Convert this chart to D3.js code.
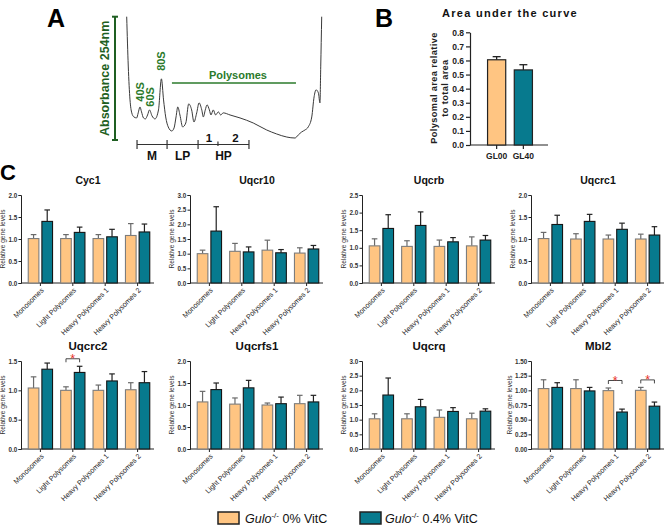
<!DOCTYPE html>
<html><head><meta charset="utf-8">
<script src="https://cdn.jsdelivr.net/npm/d3@7"></script>
<style>
body{margin:0;background:#fff}
svg{display:block;font-family:"Liberation Sans",Arial,sans-serif}
</style>
</head><body>
<svg id="c" width="669" height="525"></svg>
<script>
// ---------- Panel A: polysome profile ----------
const traceFraction = [0,0.8,1.7,2.6,3.7,5.1,5.9,6.8,7.6,8.6,9.6,10.7,11.7,13.0,14.5,16.3,17.8,18.9,20.0,21.3,23.1,24.3,25.3,26.2,27.3,28.7,30.3,31.8,33.3,34.5,35.9,37.1,38.5,39.3,40.3,41.2,42.4,43.2,44.4,45.6,47.0,48.2,49.5,53.0,58.1,64.9,71.8,76.9,82.1,86.3,88.0,89.7,91.4,93.1,94.9,96.1,97.1,98.3,99.1,99.5,100];
const traceAbsorbance = [1.0,0.60,0.325,0.22,0.187,0.179,0.22,0.268,0.228,0.179,0.171,0.203,0.244,0.195,0.171,0.244,0.496,0.325,0.187,0.106,0.073,0.098,0.187,0.268,0.203,0.106,0.138,0.293,0.244,0.146,0.22,0.301,0.244,0.187,0.244,0.285,0.244,0.203,0.244,0.203,0.228,0.203,0.22,0.203,0.179,0.138,0.081,0.049,0.024,0.016,0.041,0.065,0.081,0.106,0.187,0.35,0.407,0.382,0.301,0.593,1.0];
const peakLabels = ["40S","60S","80S"];
const peakFraction = [6.9, 12.1, 17.8];
const peakLabelLevel = [0.39, 0.35, 0.64];
const polysomeRange = [23.2, 86.8];
const fractionBounds = [5.3, 20.7, 36.6, 62.7];
const fractionLabels = ["M","LP","HP"];
const hpSplit = 46.8;
const hpLabels = ["1","2"];

// ---------- Panel B ----------
const areaGroups = ["GL00","GL40"];
const areaMean = [0.605, 0.533];
const areaErr = [0.022, 0.037];

// ---------- Panel C ----------
const groups = ["Monosomes","Light Polysomes","Heavy Polysomes 1","Heavy Polysomes 2"];
const genes = ["Cyc1","Uqcr10","Uqcrb","Uqcrc1","Uqcrc2","Uqcrfs1","Uqcrq","Mbl2"];
const yMax = [2.0, 3.0, 2.5, 2.0, 1.5, 2.0, 3.0, 1.5];
const yStep = [0.5, 0.5, 0.5, 0.5, 0.5, 0.5, 0.5, 0.25];
const mean0 = [
  [1.01,1.01,1.01,1.08],
  [1.00,1.08,1.12,1.02],
  [1.055,1.04,1.04,1.055],
  [1.01,1.00,1.00,1.00],
  [1.04,1.00,1.00,1.01],
  [1.07,1.02,1.00,1.03],
  [1.03,1.03,1.08,1.03],
  [1.03,1.03,0.995,1.00]
];
const err0 = [
  [0.09,0.09,0.09,0.27],
  [0.12,0.27,0.34,0.18],
  [0.20,0.16,0.18,0.255],
  [0.14,0.12,0.09,0.11],
  [0.19,0.06,0.09,0.12],
  [0.24,0.14,0.045,0.19],
  [0.17,0.17,0.25,0.19],
  [0.15,0.15,0.045,0.05]
];
const mean04 = [
  [1.40,1.15,1.05,1.16],
  [1.77,1.06,1.03,1.16],
  [1.55,1.635,1.17,1.22],
  [1.33,1.40,1.22,1.09],
  [1.36,1.305,1.16,1.13],
  [1.35,1.39,1.03,1.07],
  [1.84,1.44,1.28,1.29],
  [1.05,0.99,0.63,0.73]
];
const err04 = [
  [0.26,0.12,0.17,0.18],
  [0.83,0.17,0.11,0.12],
  [0.39,0.385,0.12,0.13],
  [0.21,0.16,0.14,0.19],
  [0.105,0.105,0.12,0.19],
  [0.15,0.17,0.15,0.15],
  [0.58,0.25,0.13,0.08],
  [0.08,0.06,0.05,0.07]
];
const significant = [[],[],[],[],[1],[],[],[2,3]];
const legendLabels = ["0% VitC","0.4% VitC"];

// ---------- styles ----------
const ORANGE = "#FFC582", TEAL = "#077A8E";
const GREEN = "#2B7A2B", DGREEN = "#1F5F22";
const FONT = "Liberation Sans, Arial, sans-serif";
const svg = d3.select("#c");
svg.append("rect").attr("width",669).attr("height",525).attr("fill","#fff");

// panel letters
[["A",47,27,25],["B",375,27,25],["C",0,180,22]].forEach(([t,x,y,s])=>{
  svg.append("text").attr("x",x).attr("y",y).attr("font-size",s).attr("font-weight","bold").attr("fill","#000").text(t);
});

// ===== Panel A =====
(function(){
  const xA = d3.scaleLinear().domain([0,100]).range([126.7,321.7]);
  const yA = d3.scaleLinear().domain([0,1]).range([140,16.7]);
  const gA = svg.append("g");
  const pts = traceFraction.map((f,i)=>[f, traceAbsorbance[i]]);
  gA.append("path").datum(pts)
    .attr("d", d3.line().x(d=>xA(d[0])).y(d=>yA(d[1])).curve(d3.curveMonotoneX))
    .attr("fill","none").attr("stroke","#3a3a3a").attr("stroke-width",1);
  const ax = 115;
  gA.append("line").attr("x1",ax).attr("x2",ax).attr("y1",yA(1)).attr("y2",yA(0)).attr("stroke",DGREEN).attr("stroke-width",2);
  [0,1].forEach(v=>gA.append("line").attr("x1",ax-3).attr("x2",ax+3).attr("y1",yA(v)).attr("y2",yA(v)).attr("stroke",DGREEN).attr("stroke-width",2));
  gA.append("text").attr("transform",`translate(${ax-6},${(yA(0)+yA(1))/2}) rotate(-90)`)
    .attr("text-anchor","middle").attr("font-size",12.5).attr("font-weight","bold").attr("fill",DGREEN).text("Absorbance 254nm");
  peakLabels.forEach((t,i)=>{
    gA.append("text").attr("transform",`translate(${xA(peakFraction[i])},${yA(peakLabelLevel[i])}) rotate(-90)`)
      .attr("text-anchor","middle").attr("dy","0.35em").attr("font-size",11).attr("font-weight","bold").attr("fill",GREEN).text(t);
  });
  gA.append("line").attr("x1",xA(polysomeRange[0])).attr("x2",xA(polysomeRange[1])).attr("y1",83).attr("y2",83).attr("stroke",GREEN).attr("stroke-width",1.6);
  gA.append("text").attr("x",(xA(polysomeRange[0])+xA(polysomeRange[1]))/2+4).attr("y",79).attr("text-anchor","middle")
    .attr("font-size",11).attr("font-weight","bold").attr("fill",GREEN).text("Polysomes");
  const by = 144.5;
  gA.append("line").attr("x1",xA(fractionBounds[0])).attr("x2",xA(fractionBounds[3])).attr("y1",by).attr("y2",by).attr("stroke","#333").attr("stroke-width",1.2);
  fractionBounds.forEach(b=>gA.append("line").attr("x1",xA(b)).attr("x2",xA(b)).attr("y1",by-4.5).attr("y2",by+4.5).attr("stroke","#333").attr("stroke-width",1.2));
  gA.append("line").attr("x1",xA(hpSplit)).attr("x2",xA(hpSplit)).attr("y1",by-3).attr("y2",by+1.5).attr("stroke","#333").attr("stroke-width",1.2);
  fractionLabels.forEach((t,i)=>{
    gA.append("text").attr("x",(xA(fractionBounds[i])+xA(fractionBounds[i+1]))/2).attr("y",159.5).attr("text-anchor","middle")
      .attr("font-size",12).attr("font-weight","bold").attr("fill","#111").text(t);
  });
  const hpEdges = [fractionBounds[2], hpSplit, fractionBounds[3]];
  hpLabels.forEach((t,i)=>{
    gA.append("text").attr("x",(xA(hpEdges[i])+xA(hpEdges[i+1]))/2+(i===0?1:2)).attr("y",141.5).attr("text-anchor","middle")
      .attr("font-size",11.5).attr("font-weight","bold").attr("fill","#111").text(t);
  });
})();

// ===== Panel B =====
(function(){
  const y0 = 145;
  const y = d3.scaleLinear().domain([0,0.8]).range([y0,32.3]);
  const x = d3.scaleBand().domain(areaGroups).range([471,549]).paddingInner(0.32).paddingOuter(0.62);
  const g = svg.append("g");
  g.append("text").attr("x",442).attr("y",16.7).attr("font-size",11).attr("font-weight","bold").attr("letter-spacing","1.3px").attr("fill","#111").text("Area under the curve");
  const yAxis = d3.axisLeft(y).tickValues(d3.range(0,0.81,0.1)).tickFormat(d3.format(".1f")).tickSize(4).tickSizeOuter(0).tickPadding(2);
  g.append("g").attr("transform","translate(470,0)").call(yAxis)
    .call(a=>a.selectAll("text").attr("font-size",8.5).attr("font-weight","bold").attr("fill","#222").attr("font-family",FONT))
    .call(a=>a.selectAll("line,path").attr("stroke","#222").attr("stroke-width",1.2));
  const xAxis = d3.axisBottom(x).tickSize(4).tickSizeOuter(0);
  g.append("g").attr("transform",`translate(0,${y0})`).call(xAxis)
    .call(a=>a.select(".domain").attr("d","M470,0H548"))
    .call(a=>a.selectAll("line,path").attr("stroke","#222").attr("stroke-width",1.2))
    .call(a=>a.selectAll("text").attr("font-size",8.5).attr("font-weight","bold").attr("fill","#222").attr("font-family",FONT).attr("y",8));
  areaGroups.forEach((k,i)=>{
    const cx = x(k)+x.bandwidth()/2;
    const top = y(areaMean[i]+areaErr[i]);
    g.append("line").attr("x1",cx).attr("x2",cx).attr("y1",y(areaMean[i])).attr("y2",top).attr("stroke","#222").attr("stroke-width",1.3);
    g.append("line").attr("x1",cx-4).attr("x2",cx+4).attr("y1",top).attr("y2",top).attr("stroke","#222").attr("stroke-width",1.3);
    g.append("rect").attr("x",x(k)).attr("y",y(areaMean[i])).attr("width",x.bandwidth()).attr("height",y0-y(areaMean[i]))
      .attr("fill",i===0?ORANGE:TEAL).attr("stroke","#222").attr("stroke-width",1.2);
  });
  const lab = g.append("text").attr("transform","translate(439,88) rotate(-90)").attr("text-anchor","middle")
    .attr("font-size",9.2).attr("font-weight","bold").attr("fill","#222").attr("letter-spacing","0.4px");
  lab.append("tspan").attr("x",0).attr("dy","-0.25em").text("Polysomal area relative");
  lab.append("tspan").attr("x",0).attr("dy","1.2em").text("to total area");
})();

// ===== Panel C =====
const colX = [21, 190, 362, 531];
const rowY = [283, 449];
const titleY = [184, 350];
const titleSize = [10.5, 11.5];
genes.forEach((gene,i)=>{
  const col = i%4, row = Math.floor(i/4);
  const x0 = colX[col], y0 = rowY[row], h = 88;
  const g = svg.append("g");
  const y = d3.scaleLinear().domain([0,yMax[i]]).range([y0, y0-h]);
  const x = d3.scaleBand().domain(groups).range([x0+4, x0+132]).paddingInner(0.25).paddingOuter(0.1);
  const xs = d3.scaleBand().domain([0,1]).range([0,x.bandwidth()]).paddingInner(0.22);
  g.append("text").attr("x",x0+67).attr("y",titleY[row]).attr("text-anchor","middle")
    .attr("font-size",titleSize[row]).attr("font-weight","bold").attr("fill","#111").text(gene);
  const yAxis = d3.axisLeft(y).tickValues(d3.range(0, yMax[i]+1e-9, yStep[i]))
    .tickFormat(d3.format(yStep[i]<0.5?".2f":".1f")).tickSize(2.5).tickPadding(1.2);
  g.append("g").attr("transform",`translate(${x0},0)`).call(yAxis)
    .call(a=>a.selectAll("text").attr("font-size",6.3).attr("font-weight","bold").attr("fill","#333").attr("font-family",FONT))
    .call(a=>a.selectAll("line,path").attr("stroke","#222").attr("stroke-width",1));
  const labX = x0 - (yStep[i]<0.5 ? 21 : 17.5);
  g.append("text").attr("transform",`translate(${labX},${y0-h/2}) rotate(-90)`).attr("text-anchor","middle").attr("dy","0.3em")
    .attr("font-size",6.6).attr("fill","#333").text("Relative gene levels");
  const xAxis = d3.axisBottom(x).tickSize(3).tickSizeOuter(0);
  g.append("g").attr("transform",`translate(0,${y0})`).call(xAxis)
    .call(a=>a.select(".domain").attr("d",`M${x0},0H${x0+133}`))
    .call(a=>a.selectAll("line,path").attr("stroke","#222").attr("stroke-width",1))
    .call(a=>a.selectAll("text").attr("x",0).attr("y",0).attr("dy","0.35em")
      .attr("transform","translate(2,6) rotate(-45)").attr("text-anchor","end")
      .attr("font-size",7.2).attr("fill","#222").attr("font-family",FONT));
  groups.forEach((grp,j)=>{
    const series = [[mean0[i][j],err0[i][j],ORANGE,"#7d7d7d","#6a6a6a"],[mean04[i][j],err04[i][j],TEAL,"#151515","#222"]];
    series.forEach(([m,e,fill,stroke,ecol],k)=>{
      const bx = x(grp)+xs(k), bw = xs.bandwidth(), cx = bx+bw/2;
      const top = y(m+e);
      g.append("line").attr("x1",cx).attr("x2",cx).attr("y1",y(m)).attr("y2",top).attr("stroke",ecol).attr("stroke-width",1.2);
      g.append("line").attr("x1",cx-2.8).attr("x2",cx+2.8).attr("y1",top).attr("y2",top).attr("stroke",ecol).attr("stroke-width",1.2);
      g.append("rect").attr("x",bx).attr("y",y(m)).attr("width",bw).attr("height",y0-y(m))
        .attr("fill",fill).attr("stroke",stroke).attr("stroke-width",1.1);
    });
  });
  significant[i].forEach(j=>{
    const grp = groups[j];
    const xo = x(grp)+xs(0)+xs.bandwidth()/2, xt = x(grp)+xs(1)+xs.bandwidth()/2;
    const yb = y(Math.max(mean0[i][j]+err0[i][j], mean04[i][j]+err04[i][j])) - 7.5;
    g.append("path").attr("d",`M${xo},${yb+3.5}V${yb}H${xt}V${yb+3.5}`).attr("fill","none").attr("stroke","#333").attr("stroke-width",0.9);
    g.append("text").attr("x",(xo+xt)/2).attr("y",yb+4.5).attr("text-anchor","middle").attr("font-size",12.5).attr("fill","#E8302A").text("*");
  });
});

// legend
[[218,245,ORANGE],[360,385,TEAL]].forEach(([bx,tx,fill],i)=>{
  svg.append("rect").attr("x",bx).attr("y",512).attr("width",21).attr("height",12).attr("fill",fill).attr("stroke","#222").attr("stroke-width",1.5);
  const t = svg.append("text").attr("x",tx).attr("y",522.5).attr("font-size",12.5).attr("fill","#111");
  t.append("tspan").attr("font-style","italic").text("Gulo");
  t.append("tspan").attr("font-size",8).attr("dy",-5).text("-/-");
  t.append("tspan").attr("dy",5).text(" " + legendLabels[i]);
});
</script>
</body></html>
